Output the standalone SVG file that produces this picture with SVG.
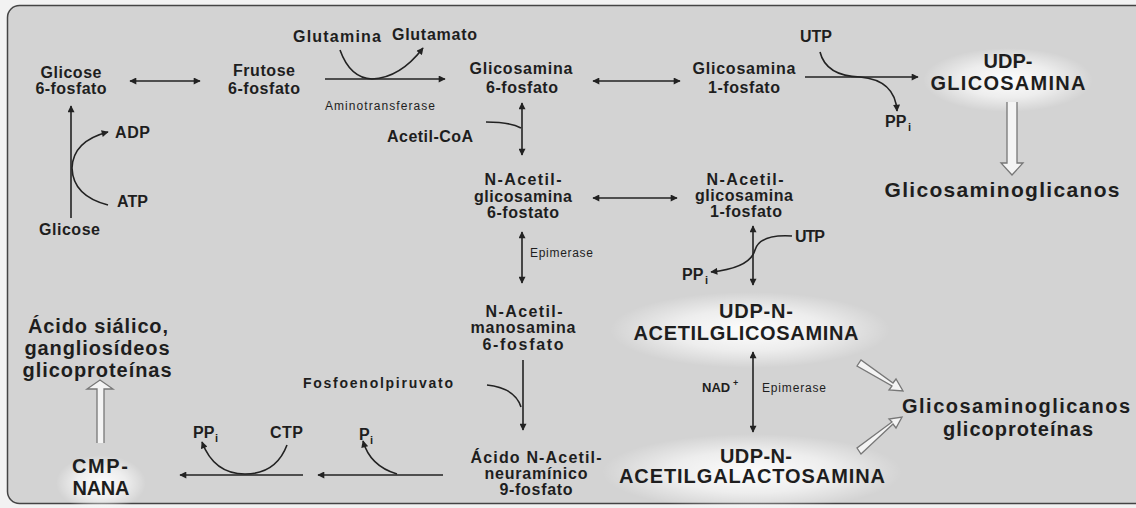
<svg xmlns="http://www.w3.org/2000/svg" width="1136" height="508" viewBox="0 0 1136 508">
<style>
text{font-family:"Liberation Sans",Arial,sans-serif;fill:#1e1e1e;font-weight:bold}
.m{font-size:16px}
.b{font-size:20px}
.g{font-size:21px}
.s{font-size:12px;font-weight:normal}
.sub{font-size:11px}
.ln{fill:none;stroke:#222;stroke-width:1.6}
.ha{fill:#f4f4f4;stroke:#777;stroke-width:1.3}
</style>
<defs>
<marker id="ah" viewBox="0 0 10 10" refX="9" refY="5" markerWidth="8" markerHeight="7" markerUnits="userSpaceOnUse" orient="auto-start-reverse"><path d="M0,0 L10,5 L0,10 Z" fill="#222"/></marker>
<radialGradient id="glow"><stop offset="0" stop-color="#ffffff" stop-opacity="0.95"/><stop offset="0.55" stop-color="#ffffff" stop-opacity="0.6"/><stop offset="1" stop-color="#ffffff" stop-opacity="0"/></radialGradient>
</defs>
<rect x="0" y="0" width="1136" height="508" fill="#f2f2f2"/>
<rect x="7.5" y="5.5" width="1140" height="498" rx="12" fill="#d3d3d3" stroke="#444" stroke-width="1.5"/>
<g id="glows">
<ellipse cx="1008" cy="80" rx="85" ry="32" fill="url(#glow)"/>
<ellipse cx="750" cy="330" rx="140" ry="38" fill="url(#glow)"/>
<ellipse cx="752" cy="472" rx="150" ry="38" fill="url(#glow)"/>
<ellipse cx="101" cy="483" rx="45" ry="28" fill="url(#glow)"/>
</g>
<g id="connectors">
<line class="ln" x1="130" y1="81" x2="200" y2="81" marker-start="url(#ah)" marker-end="url(#ah)"/>
<line class="ln" x1="325" y1="79" x2="445" y2="79" marker-end="url(#ah)"/>
<path class="ln" d="M340,50 Q350,78 372,79 Q400,78 423,48" marker-end="url(#ah)"/>
<line class="ln" x1="593" y1="81" x2="680" y2="81" marker-start="url(#ah)" marker-end="url(#ah)"/>
<line class="ln" x1="805" y1="77" x2="918" y2="77" marker-end="url(#ah)"/>
<path class="ln" d="M820,52 Q826,76 860,77 Q895,80 897,111" marker-end="url(#ah)"/>
<line class="ln" x1="71" y1="218" x2="71" y2="106" marker-end="url(#ah)"/>
<path class="ln" d="M108,205 Q73,196 72,168 Q73,141 108,132" marker-end="url(#ah)"/>
<line class="ln" x1="522" y1="103" x2="522" y2="155" marker-start="url(#ah)" marker-end="url(#ah)"/>
<path class="ln" d="M486,122 Q510,122 521,128"/>
<line class="ln" x1="593" y1="198" x2="677" y2="198" marker-start="url(#ah)" marker-end="url(#ah)"/>
<line class="ln" x1="522" y1="232" x2="522" y2="283" marker-start="url(#ah)" marker-end="url(#ah)"/>
<line class="ln" x1="753" y1="226" x2="753" y2="285" marker-start="url(#ah)" marker-end="url(#ah)"/>
<path class="ln" d="M792,236 Q760,234 755,250 Q750,268 711,272" marker-end="url(#ah)"/>
<line class="ln" x1="523" y1="360" x2="523" y2="430" marker-end="url(#ah)"/>
<path class="ln" d="M487,385 Q515,388 521,407"/>
<line class="ln" x1="753" y1="352" x2="753" y2="432" marker-start="url(#ah)" marker-end="url(#ah)"/>
<line class="ln" x1="443" y1="475" x2="318" y2="475" marker-end="url(#ah)"/>
<path class="ln" d="M397,474 Q370,466 363,441" marker-end="url(#ah)"/>
<line class="ln" x1="303" y1="475" x2="180" y2="475" marker-end="url(#ah)"/>
<path class="ln" d="M287,445 Q276,474 245,474 Q214,474 202,442" marker-end="url(#ah)"/>
<path class="ha" d="M1007,102 L1007,163 L1001,163 L1012,175 L1023,163 L1017,163 L1017,102"/>
<path class="ha" d="M97,443 L97,389 L87,389 L100,380 L113,389 L104,389 L104,443"/>
<path class="ha" d="M857,366 L861,360 L893,383 L896,379 L903,391 L889,390 L892,386 Z"/>
<path class="ha" d="M857,448 L861,454 L893,424 L896,428 L902,417 L889,419 L892,422 Z"/>
</g>
<g id="glicose6p"><text class="m" x="71" y="78" text-anchor="middle" textLength="61">Glicose</text><text class="m" x="71" y="94" text-anchor="middle" textLength="71">6-fosfato</text></g>
<g id="frutose6p"><text class="m" x="264" y="76" text-anchor="middle" textLength="62">Frutose</text><text class="m" x="264" y="94" text-anchor="middle" textLength="72">6-fosfato</text></g>
<g id="glutamina"><text class="m" x="293" y="42" textLength="88">Glutamina</text></g>
<g id="glutamato"><text class="m" x="392" y="40" textLength="85">Glutamato</text></g>
<g id="aminotransferase"><text class="s" x="325" y="110" textLength="110">Aminotransferase</text></g>
<g id="glicosamina6p"><text class="m" x="521" y="74" text-anchor="middle" textLength="103">Glicosamina</text><text class="m" x="522" y="93" text-anchor="middle" textLength="72">6-fosfato</text></g>
<g id="glicosamina1p"><text class="m" x="744" y="74" text-anchor="middle" textLength="103">Glicosamina</text><text class="m" x="744" y="93" text-anchor="middle" textLength="72">1-fosfato</text></g>
<g id="utp1"><text class="m" x="800" y="42" textLength="32">UTP</text></g>
<g id="ppi1"><text class="m" x="885" y="127">PP</text><text class="sub" x="908" y="131">i</text></g>
<g id="udpglicosamina"><text class="b" x="1008" y="68" text-anchor="middle">UDP-</text><text class="b" x="1008" y="90" text-anchor="middle" textLength="155">GLICOSAMINA</text></g>
<g id="glicosaminoglicanos1"><text class="g" x="1002" y="197" text-anchor="middle" textLength="235">Glicosaminoglicanos</text></g>
<g id="adp"><text class="m" x="115" y="138" textLength="35">ADP</text></g>
<g id="atp"><text class="m" x="117" y="207" textLength="31">ATP</text></g>
<g id="glicose"><text class="m" x="39" y="235" textLength="61">Glicose</text></g>
<g id="acetilcoa"><text class="m" x="387" y="142" textLength="86">Acetil-CoA</text></g>
<g id="nacglc6p"><text class="m" x="523" y="185" text-anchor="middle" textLength="77">N-Acetil-</text><text class="m" x="523" y="202" text-anchor="middle" textLength="98">glicosamina</text><text class="m" x="523" y="218" text-anchor="middle" textLength="72">6-fostato</text></g>
<g id="nacglc1p"><text class="m" x="745" y="185" text-anchor="middle" textLength="77">N-Acetil-</text><text class="m" x="744" y="201" text-anchor="middle" textLength="98">glicosamina</text><text class="m" x="746" y="217" text-anchor="middle" textLength="72">1-fosfato</text></g>
<g id="epimerase1"><text class="s" x="530" y="257" textLength="63">Epimerase</text></g>
<g id="utp2"><text class="m" x="795" y="242" textLength="30">UTP</text></g>
<g id="ppi2"><text class="m" x="682" y="280">PP</text><text class="sub" x="705" y="284">i</text></g>
<g id="nacman6p"><text class="m" x="524" y="317" text-anchor="middle" textLength="77">N-Acetil-</text><text class="m" x="523" y="333" text-anchor="middle" textLength="105">manosamina</text><text class="m" x="523" y="350" text-anchor="middle" textLength="81">6-fosfato</text></g>
<g id="udpnacglc"><text class="b" x="756" y="318" text-anchor="middle" textLength="74">UDP-N-</text><text class="b" x="746" y="340" text-anchor="middle" textLength="225">ACETILGLICOSAMINA</text></g>
<g id="nad"><text x="702" y="392" font-size="13">NAD</text><text x="733" y="386" font-size="9">+</text></g>
<g id="epimerase2"><text class="s" x="762" y="392" font-size="10" textLength="64">Epimerase</text></g>
<g id="udpnacgal"><text class="b" x="756" y="463" text-anchor="middle" textLength="72">UDP-N-</text><text class="b" x="752" y="483" text-anchor="middle" textLength="266">ACETILGALACTOSAMINA</text></g>
<g id="glicosaminoglicanos2"><text class="b" x="1016" y="413" text-anchor="middle" textLength="228">Glicosaminoglicanos</text><text class="b" x="1018" y="436" text-anchor="middle" textLength="150">glicoproteínas</text></g>
<g id="fosfoenolpiruvato"><text x="303" y="388" font-size="14" textLength="150">Fosfoenolpiruvato</text></g>
<g id="acidonacneu"><text class="m" x="536" y="463" text-anchor="middle" textLength="131">Ácido N-Acetil-</text><text class="m" x="536" y="479" text-anchor="middle" textLength="103">neuramínico</text><text class="m" x="536" y="495" text-anchor="middle" textLength="73">9-fosfato</text></g>
<g id="pi"><text class="m" x="359" y="440">P</text><text class="sub" x="370" y="444">i</text></g>
<g id="ppi3"><text class="m" x="193" y="438">PP</text><text class="sub" x="215" y="442">i</text></g>
<g id="ctp"><text class="m" x="270" y="438" textLength="33">CTP</text></g>
<g id="cmpnana"><text class="b" x="100" y="473" text-anchor="middle" textLength="56">CMP-</text><text class="b" x="101" y="495" text-anchor="middle" textLength="57">NANA</text></g>
<g id="acidosialico"><text class="b" x="98" y="333" text-anchor="middle" textLength="140">Ácido siálico,</text><text class="b" x="97" y="355" text-anchor="middle" textLength="145">gangliosídeos</text><text class="b" x="97" y="377" text-anchor="middle" textLength="149">glicoproteínas</text></g>
</svg>
